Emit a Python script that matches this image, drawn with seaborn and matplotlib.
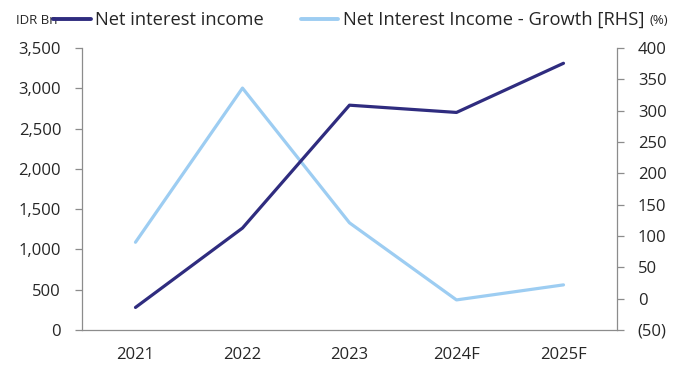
import matplotlib
matplotlib.use("Agg")
import matplotlib.pyplot as plt
import seaborn as sns
import pandas as pd
from matplotlib.lines import Line2D

years = ["2021", "2022", "2023", "2024F", "2025F"]
net_interest_income = [280, 1265, 2790, 2700, 3310]      # IDR Bn
nii_growth = [90, 336, 121, -2, 22]                      # %

sns.set_style("white")
plt.rcParams["font.family"] = ["Open Sans", "DejaVu Sans"]

DARK = "#2F2C7F"
LIGHT = "#9DCDF2"
TXT = "#262626"
SPINE = "#8C8C8C"

df = pd.DataFrame({"year": years, "nii": net_interest_income, "growth": nii_growth})
df["x"] = range(len(years))

fig = plt.figure(figsize=(6.93, 3.69), dpi=100)
ax = fig.add_axes([0.1183, 0.1057, 0.7720, 0.7643])
ax2 = ax.twinx()

sns.lineplot(data=df, x="x", y="nii", ax=ax, color=DARK, linewidth=2.3,
             legend=False)
sns.lineplot(data=df, x="x", y="growth", ax=ax2, color=LIGHT, linewidth=2.3,
             legend=False)
ax.set_zorder(ax2.get_zorder() + 1)
ax.patch.set_visible(False)

ax.set_xlim(-0.5, len(years) - 0.5)
ax.set_ylim(0, 3500)
ax.set_yticks(range(0, 3501, 500))
ax.set_yticklabels([f"{v:,}" for v in range(0, 3501, 500)])
ax2.set_ylim(-50, 400)
ax2.set_yticks(range(-50, 401, 50))
ax2.set_yticklabels([f"({-v})" if v < 0 else f"{v}" for v in range(-50, 401, 50)])

# category labels centred, tick marks on category boundaries
ax.set_xticks(df["x"])
ax.set_xticklabels(years)
ax.set_xticks([i + 0.5 for i in range(len(years) - 1)], minor=True)
ax.tick_params(axis="x", which="major", length=0, pad=12, labelsize=12,
               labelcolor=TXT)
ax.tick_params(axis="x", which="minor", length=5, width=0.9, color=SPINE,
               direction="out")
ax.set_xlabel("")
ax.set_ylabel("")
ax2.set_ylabel("")

ax.tick_params(axis="y", length=5, width=0.9, color=SPINE, direction="out",
               labelsize=12, labelcolor=TXT, pad=10)
ax2.tick_params(axis="y", length=5, width=0.9, color=SPINE, direction="out",
                labelsize=12, labelcolor=TXT, pad=10)

for a in (ax, ax2):
    a.spines["top"].set_visible(False)
    for side in ("left", "right", "bottom"):
        a.spines[side].set_color(SPINE)
        a.spines[side].set_linewidth(0.9)
ax.spines["right"].set_visible(False)
ax2.spines["left"].set_visible(False)
ax2.spines["bottom"].set_visible(False)

# unit labels and legend across the top
fig.text(16 / 693, 1 - 20 / 369, "IDR Bn", fontsize=9.5, color=TXT,
         va="center", ha="left")
fig.text(650 / 693, 1 - 20 / 369, "(%)", fontsize=9.5, color=TXT,
         va="center", ha="left")
handles = [Line2D([], [], color=DARK, linewidth=2.8),
           Line2D([], [], color=LIGHT, linewidth=2.8)]
fig.legend(handles, ["Net interest income", "Net Interest Income - Growth [RHS]"],
           loc="center left", bbox_to_anchor=(53 / 693, 1 - 20 / 369),
           ncol=2, frameon=False, fontsize=13.2, handlelength=2.05,
           handletextpad=0.25, columnspacing=2.0, borderaxespad=0,
           borderpad=0, labelcolor=TXT)

fig.savefig("out.png", dpi=100)
